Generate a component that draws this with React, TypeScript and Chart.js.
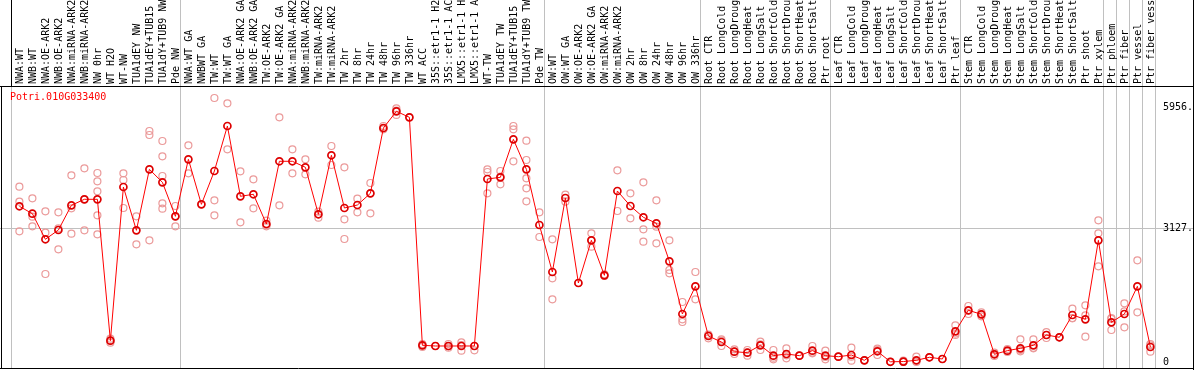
import { useEffect, useRef } from "react";
import { Chart, registerables } from "chart.js";

Chart.register(...registerables);

const geneName = "Potri.010G033400";

const categories = [
  "NWA:WT", "NWB:WT", "NWA:OE-ARK2", "NWB:OE-ARK2", "NWA:miRNA-ARK2", "NWB:miRNA-ARK2",
  "NW 0hr", "WT H2O", "WT-NW", "TUA1dEY NW", "TUA1dEY+TUB15", "TUA1dY+TUB9 NW", "Pde NW",
  "NWA:WT GA", "NWBWT GA", "TW:WT", "TW:WT GA", "NWA:OE-ARK2 GA", "NWB:OE-ARK2 GA",
  "TW:OE-ARK2", "TW:OE-ARK2 GA", "NWA:miRNA-ARK2", "NWB:miRNA-ARK2", "TW:miRNA-ARK2",
  "TW:miRNA-ARK2", "TW 2hr", "TW 8hr", "TW 24hr", "TW 48hr", "TW 96hr", "TW 336hr",
  "WT ACC", "35S::etr1-1 H2", "35S::etr1-1 AC", "LMX5::etr1-1 H", "LMX5::etr1-1 A",
  "WT-TW", "TUA1dEY TW", "TUA1dEY+TUB15", "TUA1dY+TUB9 TW", "Pde TW",
  "OW:WT", "OW:WT GA", "OW:OE-ARK2", "OW:OE-ARK2 GA", "OW:miRNA-ARK2", "OW:miRNA-ARK2",
  "OW 2hr", "OW 8hr", "OW 24hr", "OW 48hr", "OW 96hr", "OW 336hr",
  "Root CTR", "Root LongCold", "Root LongDroug", "Root LongHeat", "Root LongSalt",
  "Root ShortCold", "Root ShortDrou", "Root ShortHeat", "Root ShortSalt", "Ptr root",
  "Leaf CTR", "Leaf LongCold", "Leaf LongDroug", "Leaf LongHeat", "Leaf LongSalt",
  "Leaf ShortCold", "Leaf ShortDrou", "Leaf ShortHeat", "Leaf ShortSalt", "Ptr leaf",
  "Stem CTR", "Stem LongCold", "Stem LongDroug", "Stem LongHeat", "Stem LongSalt",
  "Stem ShortCold", "Stem ShortDrou", "Stem ShortHeat", "Stem ShortSalt", "Ptr shoot",
  "Ptr xylem", "Ptr phloem", "Ptr fiber", "Ptr vessel", "Ptr fiber vess",
];

const means = [
  3637, 3464, 2866, 3083, 3660, 3800, 3800, 498, 4087, 3076, 4500, 4197, 3403,
  4734, 3683, 4461, 5512, 3870, 3917, 3223, 4688, 4688, 4547, 3450, 4828, 3597,
  3667, 3940, 5465, 5855, 5715, 390, 374, 374, 374, 374, 4274, 4314, 5201, 4500, 3200,
  2102, 3830, 1845, 2842, 2025, 3994, 3644, 3380, 3240, 2352, 1121, 1768,
  607, 467, 241, 217, 390, 148, 187, 148, 265, 148,
  124, 163, 39, 250, 5, 10, 40, 110, 70, 717,
  1208, 1114, 180, 265, 320, 390, 631, 577, 1098, 997, 2842,
  927, 1121, 1768, 350,
];

const replicates = [
  [4095, 3744, 3053], [3823, 3394, 3169], [3519, 3020, 2055], [3497, 3120, 2632],
  [4360, 3590, 2997], [4524, 3800, 3076], [4414, 4220, 3987, 3426, 2982], [545, 498, 451],
  [4406, 4251, 3597], [3403, 2749], [5395, 5302, 2842], [5162, 4804, 4344, 3706, 3581],
  [3644, 3403, 3169],
  [5061, 4406], [3683], [6166, 3777, 3426], [6042, 4968], [4454, 3263], [4267, 3590],
  [3300, 3200, 3170], [5715, 3660], [4968, 4406], [4734, 4384], [3511, 3450, 3371],
  [5045, 4601], [4547, 3333, 2873], [3815, 3497], [4181, 3940, 3473], [5512, 5435, 5450],
  [5925, 5870, 5770], [5715], [420, 390, 350], [374, 374], [420, 334, 370], [460, 265, 397],
  [374, 273], [4500, 4438, 3940], [4461, 4150, 4330], [5512, 5435, 4688],
  [5169, 4718, 4291, 4057, 3753], [3497, 2920],
  [2866, 1955, 1464], [3908, 3744], [1845], [3006, 2693, 2842], [2048, 2009, 2018],
  [4477, 3527], [3940, 3356], [4197, 3099, 2810], [3777, 3160, 2772], [2842, 2149, 2071],
  [1401, 997, 934], [2102, 1464],
  [631, 553, 640], [498, 374, 530], [296, 187, 241], [280, 148, 222], [475, 280, 415],
  [280, 62, 100], [320, 86, 155], [148, 148], [374, 202, 220], [265, 62, 117],
  [124, 124], [335, 31, 123], [39, 39], [311, 163, 280], [5, 5], [30, 0, 0],
  [124, 16, 0], [110, 110], [70, 70], [857, 631, 663],
  [1308, 1121, 1195], [1161, 1114, 1067], [180, 217, 143], [304, 234, 257], [530, 280, 250],
  [530, 320, 330], [700, 631, 560], [577, 577], [1245, 1028, 1020], [1324, 1091, 591],
  [3310, 3006, 2235],
  [1028, 747, 1006], [1371, 810, 1182], [2375, 1161], [390, 241, 420],
];

const yTicks = [0, 3127, 5956];
const yTickLabels = ["0", "3127.", "5956."];
const yGridValue = 3127;
const groupStarts = [0, 13, 41, 53, 63, 73, 84, 85, 86, 87, 88];

const MONO = "DejaVu Sans Mono";

export default function App() {
  const canvasRef = useRef<HTMLCanvasElement | null>(null);

  useEffect(() => {
    document.body.style.margin = "0";
    const canvas = canvasRef.current;
    if (!canvas) return;

    const boundaries = groupStarts.map((s) => s - 0.6);
    const isBoundary = (v: number) => boundaries.some((b) => Math.abs(b - v) < 1e-6);

    const meanPoints = means.map((v, i) => ({ x: i, y: v }));
    const repPoints: { x: number; y: number }[] = [];
    replicates.forEach((arr, i) => arr.forEach((v) => repPoints.push({ x: i, y: v })));

    const framePlugin = {
      id: "frame",
      afterDraw(chart: any) {
        const { ctx, chartArea } = chart;
        ctx.save();
        ctx.strokeStyle = "#000000";
        ctx.lineWidth = 1;
        ctx.beginPath();
        ctx.moveTo(0, chartArea.top + 0.5);
        ctx.lineTo(chart.width, chartArea.top + 0.5);
        ctx.moveTo(0, chartArea.bottom - 0.5);
        ctx.lineTo(chart.width, chartArea.bottom - 0.5);
        ctx.moveTo(1.5, chartArea.top);
        ctx.lineTo(1.5, chartArea.bottom);
        ctx.moveTo(chart.width - 0.5, 0);
        ctx.lineTo(chart.width - 0.5, chart.height);
        ctx.stroke();
        ctx.fillStyle = "#ff0000";
        ctx.font = `10px "${MONO}"`;
        ctx.textBaseline = "middle";
        ctx.textAlign = "left";
        ctx.fillText(geneName, 10, chartArea.top + 11);
        ctx.restore();
      },
    };

    const chart = new Chart(canvas, {
      type: "line",
      data: {
        datasets: [
          {
            label: geneName,
            data: meanPoints,
            borderColor: "#ff0000",
            borderWidth: 1,
            pointRadius: 3.5,
            pointBorderWidth: 1.7,
            pointBorderColor: "#dd0000",
            pointBackgroundColor: "rgba(0,0,0,0)",
            tension: 0,
            order: 0,
          },
          {
            label: "replicates",
            data: repPoints,
            showLine: false,
            pointRadius: 3.5,
            pointBorderWidth: 1.2,
            pointBorderColor: "#eb9a9a",
            pointBackgroundColor: "rgba(0,0,0,0)",
            order: 1,
          },
        ],
      },
      plugins: [framePlugin],
      options: {
        responsive: false,
        animation: false,
        events: [],
        layout: { autoPadding: false, padding: { left: 0, right: 0, top: 0, bottom: 1 } },
        plugins: { legend: { display: false }, tooltip: { enabled: false }, title: { display: false } },
        scales: {
          x: {
            type: "linear",
            position: "top",
            min: -1.492,
            max: 87.74,
            border: { display: false },
            afterBuildTicks: (scale: any) => {
              const vals = [...categories.map((_, i) => i), ...boundaries].sort((a, b) => a - b);
              scale.ticks = vals.map((v) => ({ value: v }));
            },
            afterFit: (scale: any) => {
              scale.height = 86;
              scale.paddingLeft = 0;
              scale.paddingRight = 0;
            },
            grid: {
              drawTicks: true,
              tickLength: 86,
              lineWidth: 1,
              color: (ctx: any) => (ctx.tick && isBoundary(ctx.tick.value) ? "#c0c0c0" : "rgba(0,0,0,0)"),
              tickColor: (ctx: any) =>
                ctx.tick && isBoundary(ctx.tick.value)
                  ? ctx.tick.value === boundaries[0]
                    ? "#000000"
                    : "#c0c0c0"
                  : "rgba(0,0,0,0)",
            },
            ticks: {
              autoSkip: false,
              minRotation: 90,
              maxRotation: 90,
              padding: -84,
              labelOffset: 13,
              color: "#000000",
              font: { family: MONO, size: 10 },
              callback: (v: any) => (Number.isInteger(v) && categories[v] !== undefined ? categories[v] : ""),
            },
          },
          y: {
            type: "linear",
            position: "right",
            min: -163.5,
            max: 6446.5,
            border: { display: false },
            afterBuildTicks: (scale: any) => {
              scale.ticks = yTicks.map((v) => ({ value: v }));
            },
            afterFit: (scale: any) => {
              scale.width = 34;
              scale.paddingTop = 0;
              scale.paddingBottom = 0;
            },
            grid: {
              drawTicks: true,
              tickLength: 33,
              color: (ctx: any) => (ctx.tick && ctx.tick.value === yGridValue ? "#c0c0c0" : "rgba(0,0,0,0)"),
              tickColor: (ctx: any) => (ctx.tick && ctx.tick.value === yGridValue ? "#c0c0c0" : "rgba(0,0,0,0)"),
            },
            ticks: {
              padding: -30,
              color: "#000000",
              font: { family: MONO, size: 10 },
              callback: (v: any) => {
                const k = yTicks.indexOf(v);
                return k >= 0 ? yTickLabels[k] : "";
              },
            },
          },
        },
      },
    } as any);

    return () => chart.destroy();
  }, []);

  return (
    <div style={{ position: "absolute", left: 0, top: 0, width: 1194, height: 370, background: "#ffffff" }}>
      <canvas ref={canvasRef} width={1194} height={370} style={{ display: "block" }} />
    </div>
  );
}
